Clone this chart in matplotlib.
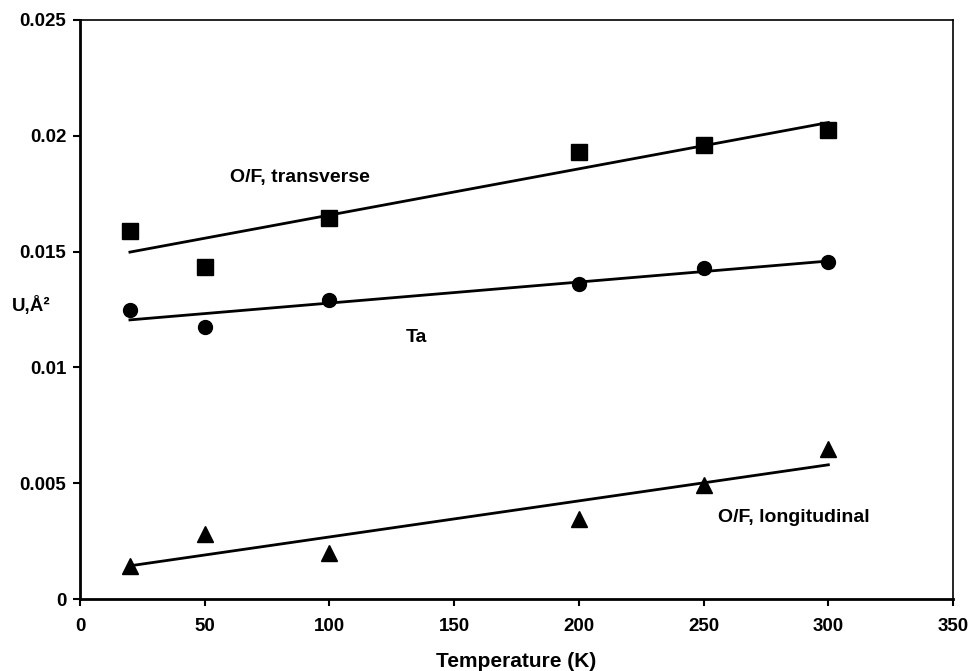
import numpy as np
import matplotlib.pyplot as plt

# %% Data

temps = [20, 50, 100, 200, 250, 300]
u_transverse = [0.0159, 0.01435, 0.01645, 0.0193, 0.0196, 0.02025]
u_ta = [0.01248, 0.01175, 0.0129, 0.0136, 0.01429, 0.01455]
u_longitudinal = [0.00142, 0.0028, 0.00199, 0.00345, 0.00492, 0.00648]

plt.rcParams["font.family"] = ["Liberation Sans", "DejaVu Sans"]
plt.rcParams["font.weight"] = "bold"

fig = plt.figure(figsize=(9.69, 6.71), dpi=100)
ax = fig.add_axes([0.0826, 0.1073, 0.901, 0.8629])

x = np.array(temps)
xs = np.array([x.min(), x.max()])

for vals, marker, ms in [
    (u_transverse, "s", 11.5),
    (u_ta, "o", 10),
    (u_longitudinal, "^", 11),
]:
    ax.plot(x, vals, linestyle="none", marker=marker, color="black", markersize=ms)
    # linear trendline, as in the original spreadsheet chart
    k, b = np.polyfit(x, vals, 1)
    ax.plot(xs, k * xs + b, color="black", linewidth=2)

ax.set_xlim(0, 350)
ax.set_ylim(0, 0.025)
ax.set_xticks(np.arange(0, 351, 50))
ax.set_yticks([0, 0.005, 0.01, 0.015, 0.02, 0.025])
ax.set_yticklabels(["0", "0.005", "0.01", "0.015", "0.02", "0.025"])

ax.tick_params(direction="out", length=5, width=1.5, labelsize=13.5)
ax.tick_params(axis="x", pad=9)
ax.tick_params(axis="y", pad=5)
for lab in ax.get_xticklabels() + ax.get_yticklabels():
    lab.set_fontweight("bold")

ax.spines["left"].set_linewidth(2)
ax.spines["bottom"].set_linewidth(2)
ax.spines["top"].set_linewidth(1.2)
ax.spines["right"].set_linewidth(1.2)

ax.set_xlabel("Temperature (K)", fontsize=15, fontweight="bold", labelpad=12)
fig.text(0.012, 0.544, "U,Å²", fontsize=13.5, fontweight="bold", va="center", ha="left")

ax.text(88, 0.0182, "O/F, transverse", fontsize=14, fontweight="bold", ha="center", va="center")
ax.text(135, 0.0113, "Ta", fontsize=14, fontweight="bold", ha="center", va="center")
ax.text(286, 0.00354, "O/F, longitudinal", fontsize=14, fontweight="bold", ha="center", va="center")

fig.savefig("out.png", dpi=100)
